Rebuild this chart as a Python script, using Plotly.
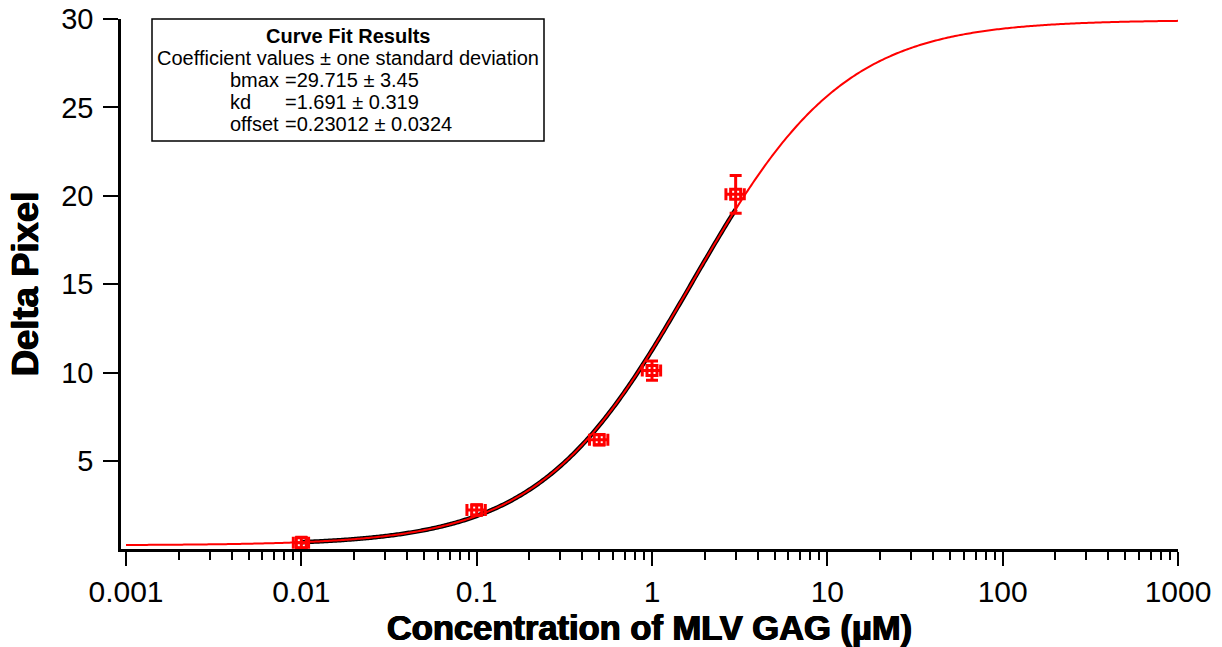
import numpy as np
import plotly.graph_objects as go

# Measured binding data
conc = [0.01, 0.1, 0.5, 1.0, 3.0]          # µM
conc_err = [0.001, 0.012, 0.06, 0.12, 0.36]
delta_pixel = [0.38, 2.23, 6.2, 10.11, 20.08]
delta_err = [0.3, 0.3, 0.3, 0.55, 1.07]

# Fitted coefficients: y = offset + bmax * x / (kd + x)
bmax, bmax_sd = 29.715, 3.45
kd, kd_sd = 1.691, 0.319
offset, offset_sd = 0.23012, 0.0324

x_tick_vals = [0.001, 0.01, 0.1, 1, 10, 100, 1000]
x_tick_text = ["0.001", "0.01", "0.1", "1", "10", "100", "1000"]
y_tick_vals = [5, 10, 15, 20, 25, 30]


def binding(x):
    return offset + bmax * x / (kd + x)


x_full = np.logspace(-3, 3, 600)
x_data_range = np.logspace(np.log10(min(conc)), np.log10(max(conc)), 300)

RED = "#ff0000"
FONT = "Liberation Sans, Arial, sans-serif"
HEAVY = "0.7px 0 0 black, -0.7px 0 0 black, 0 0.5px 0 black"

fig = go.Figure()

# fit over the measured range (dark underlay)
fig.add_trace(go.Scatter(
    x=x_data_range, y=binding(x_data_range), mode="lines",
    line=dict(color="black", width=4.5, simplify=False), hoverinfo="skip", showlegend=False,
))
# fit extended over the whole axis
fig.add_trace(go.Scatter(
    x=x_full, y=binding(x_full), mode="lines",
    line=dict(color=RED, width=2, simplify=False), hoverinfo="skip", showlegend=False,
))
# data points with error bars
fig.add_trace(go.Scatter(
    x=conc, y=delta_pixel, mode="markers",
    marker=dict(symbol="square-open", size=10, color=RED, line=dict(color=RED, width=3)),
    error_x=dict(type="data", array=conc_err, color=RED, thickness=3, width=6),
    error_y=dict(type="data", array=delta_err, color=RED, thickness=3, width=6),
    showlegend=False,
))

# plot area geometry (pixels)
L, R, T, B = 121, 1178, 19, 549
W, H = 1222, 647
decade = (R - 126) / 6.0
x_lo = -3 - (126 - L) / decade

fig.update_layout(
    width=W, height=H,
    margin=dict(l=L, r=W - R, t=T, b=H - B, pad=0),
    paper_bgcolor="white", plot_bgcolor="white",
    font=dict(family=FONT, color="black"),
    xaxis=dict(
        type="log", range=[x_lo, 3], automargin=False,
        tickmode="array", tickvals=x_tick_vals, ticktext=x_tick_text,
        ticks="outside", ticklen=14, tickwidth=2, tickcolor="black",
        minor=dict(
            tickmode="array",
            tickvals=[m * 10.0 ** e for e in range(-3, 3) for m in range(2, 10)],
            ticks="outside", ticklen=8, tickwidth=2, tickcolor="black",
        ),
        showline=True, linecolor="black", linewidth=2.5,
        showgrid=False, zeroline=False,
        tickfont=dict(size=30, family=FONT),
        title=dict(text="<b>Concentration of MLV GAG (µM)</b>",
                   font=dict(size=34.5, family=FONT, shadow=HEAVY), standoff=16),
    ),
    yaxis=dict(
        range=[0.02, 30], automargin=False,
        tickmode="array", tickvals=y_tick_vals,
        ticks="outside", ticklen=15, tickwidth=2, tickcolor="black",
        showline=True, linecolor="black", linewidth=2.5,
        showgrid=False, zeroline=False,
        tickfont=dict(size=29, family=FONT),
        ticklabelstandoff=4,
        title=dict(text="<b>Delta Pixel</b>",
                   font=dict(size=36.5, family=FONT, shadow=HEAVY), standoff=12),
    ),
)


# curve fit results box
def px_x(p):
    return (p - L) / (R - L)


def px_y(p):
    return (B - p) / (B - T)


fig.add_shape(type="rect", xref="paper", yref="paper",
              x0=px_x(152), x1=px_x(544), y0=px_y(141), y1=px_y(19),
              line=dict(color="black", width=1.5), fillcolor="white", layer="above")

box_font = dict(size=20, family=FONT, color="black")
cx = px_x(348)
fig.add_annotation(x=cx, y=px_y(36), xref="paper", yref="paper", showarrow=False,
                   text="<b>Curve Fit Results</b>", font=box_font, xanchor="center", yanchor="middle")
fig.add_annotation(x=cx, y=px_y(58), xref="paper", yref="paper", showarrow=False,
                   text="Coefficient values ± one standard deviation", font=box_font,
                   xanchor="center", yanchor="middle")

rows = [
    ("bmax", f"={bmax:g} ± {bmax_sd:g}"),
    ("kd", f"={kd:g} ± {kd_sd:g}"),
    ("offset", f"={offset:g} ± {offset_sd:g}"),
]
for i, (name, val) in enumerate(rows):
    yy = px_y(80 + 22 * i)
    fig.add_annotation(x=px_x(228), y=yy, xref="paper", yref="paper", showarrow=False,
                       text=name, font=box_font, xanchor="left", yanchor="middle")
    fig.add_annotation(x=px_x(283), y=yy, xref="paper", yref="paper", showarrow=False,
                       text=val, font=box_font, xanchor="left", yanchor="middle")

fig.write_html("out.html")
